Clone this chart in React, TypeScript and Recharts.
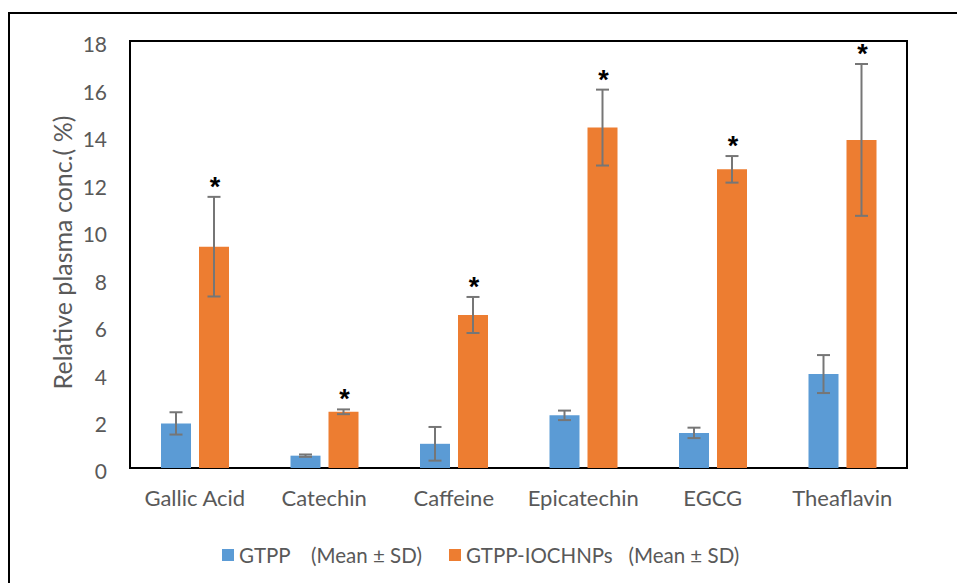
import { Bar, BarChart, ErrorBar, LabelList, Legend, ReferenceArea, XAxis, YAxis } from 'recharts';

const categories = ['Gallic Acid', 'Catechin', 'Caffeine', 'Epicatechin', 'EGCG', 'Theaflavin'];
const gtppMean = [1.88, 0.52, 1.02, 2.22, 1.48, 3.96];
const gtppSd = [0.47, 0.05, 0.71, 0.2, 0.22, 0.8];
const nanoMean = [9.33, 2.37, 6.45, 14.35, 12.59, 13.83];
const nanoSd = [2.1, 0.1, 0.76, 1.6, 0.56, 3.2];
const seriesNames = ['GTPP    (Mean ± SD)', 'GTPP-IOCHNPs   (Mean ± SD)'];
const yTicks = [0, 2, 4, 6, 8, 10, 12, 14, 16, 18];
const yTitle = 'Relative plasma conc.( %)';

const data = categories.map((name, i) => ({
  name,
  gtpp: gtppMean[i],
  gtppSd: gtppSd[i],
  nano: nanoMean[i],
  nanoSd: nanoSd[i],
}));

const font = 'Lato, "Liberation Sans", sans-serif';
const grey = '#595959';

// asterisk sits just above the top cap of the error bar
function Star(props: any) {
  const { x, y, width, height, value, index } = props;
  const perUnit = height / nanoMean[index];
  const capY = y - value * perUnit;
  return (
    <text
      x={x + width / 2 + 1}
      y={capY - 1}
      textAnchor='middle'
      fontSize={27}
      fontWeight='bold'
      fontFamily='"Liberation Sans", sans-serif'
      fill='#000'
    >
      *
    </text>
  );
}

function YTitle(props: any) {
  const { viewBox } = props;
  const cy = viewBox.y + viewBox.height / 2 - 2;
  return (
    <text
      x={62}
      y={cy}
      transform={`rotate(-90, 62, ${cy})`}
      textAnchor='middle'
      dominantBaseline='central'
      fontSize={25}
      fontFamily={font}
      fill={grey}
    >
      {yTitle}
    </text>
  );
}

function LegendBox(props: any) {
  const { payload } = props;
  return (
    <div
      style={{
        display: 'flex',
        alignItems: 'center',
        height: 60,
        paddingLeft: 222,
        paddingTop: 4,
        boxSizing: 'border-box',
        fontFamily: font,
        fontSize: 20.5,
        color: grey,
      }}
    >
      {payload.map((p: any, i: number) => (
        <div key={i} style={{ display: 'flex', alignItems: 'center', marginRight: 27 }}>
          <div style={{ width: 12, height: 12, background: p.color, marginRight: 5 }} />
          <span style={{ whiteSpace: 'pre' }}>{p.value}</span>
        </div>
      ))}
    </div>
  );
}

export default function App() {
  return (
    <div
      style={{
        position: 'absolute',
        left: 0,
        top: 0,
        width: 957,
        height: 583,
        overflow: 'hidden',
        background: '#fff',
      }}
    >
      <div
        style={{
          position: 'absolute',
          left: 8,
          top: 12,
          width: 2000,
          height: 2000,
          border: '2px solid #000',
        }}
      />
      <div style={{ position: 'absolute', left: 0, top: 0 }}>
        <BarChart
          width={957}
          height={583}
          data={data}
          margin={{ top: 41, right: 50, bottom: 0, left: 0 }}
          barSize={30}
          barGap={8}
        >
          <XAxis
            dataKey='name'
            tickLine={false}
            axisLine={false}
            tickSize={0}
            tickMargin={22}
            height={55}
            tick={{ fill: grey, fontSize: 22, fontFamily: font }}
          />
          <YAxis
            domain={[0, 18]}
            ticks={yTicks}
            width={130}
            tickLine={false}
            axisLine={false}
            tickSize={0}
            tickMargin={23}
            tick={{ fill: grey, fontSize: 21, fontFamily: font, dy: 4 }}
            label={{ content: YTitle }}
          />
          <ReferenceArea y1={0} y2={18} fill='none' stroke='#000' strokeWidth={2} />
          <Bar dataKey='gtpp' name={seriesNames[0]} fill='#5B9BD5' isAnimationActive={false}>
            <ErrorBar dataKey='gtppSd' width={6.5} strokeWidth={2} stroke='#767676' direction='y' />
          </Bar>
          <Bar dataKey='nano' name={seriesNames[1]} fill='#ED7D31' isAnimationActive={false}>
            <ErrorBar dataKey='nanoSd' width={6.5} strokeWidth={2} stroke='#767676' direction='y' />
            <LabelList dataKey='nanoSd' content={Star} />
          </Bar>
          <Legend
            verticalAlign='bottom'
            content={LegendBox}
            wrapperStyle={{ left: 0, width: 957, bottom: 0 }}
          />
        </BarChart>
      </div>
    </div>
  );
}
